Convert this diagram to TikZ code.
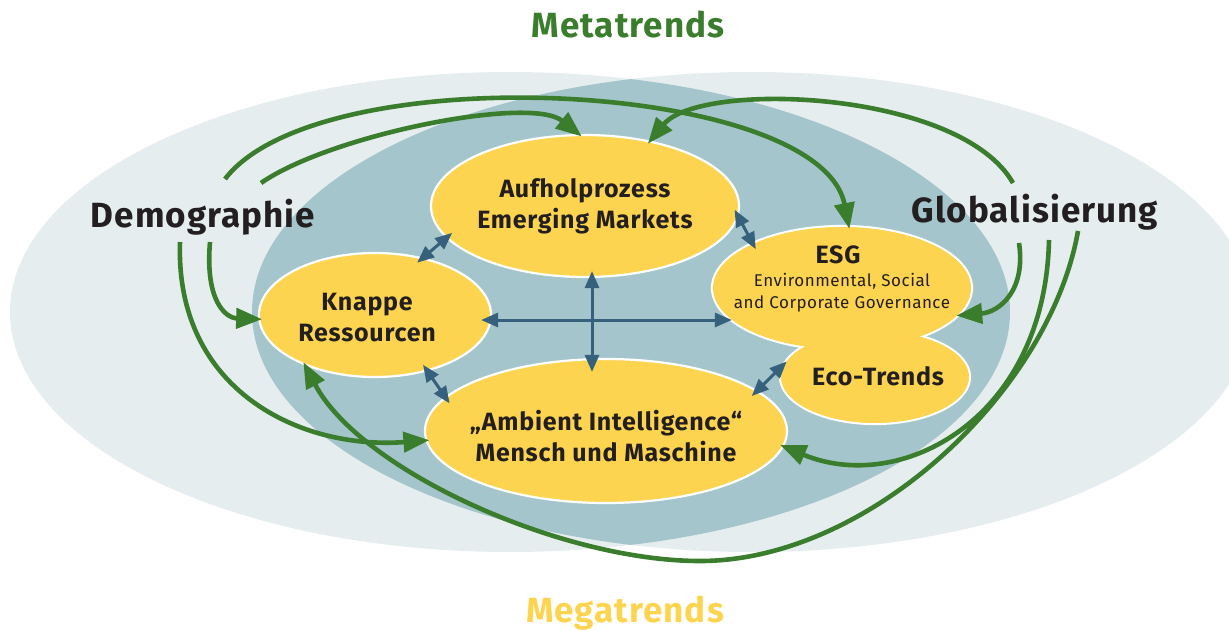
\documentclass[tikz,border=0pt]{standalone}
\usepackage{fontspec}
\setmainfont{Fira Sans}[LetterSpace=3]
\usetikzlibrary{arrows.meta, shapes.geometric}
\definecolor{metagreen}{HTML}{3A7D2C}
\definecolor{megayellow}{HTML}{FDD44F}
\definecolor{fieldlight}{HTML}{E5EDEF}
\definecolor{fielddark}{HTML}{A5C5CC}
\definecolor{linkblue}{HTML}{36617C}
\definecolor{inkdark}{HTML}{231F20}
\tikzset{
  trendblob/.style={ellipse, draw=white, fill=megayellow, line width=2.2pt, inner sep=0pt},
  blobtext/.style={align=center, font=\bfseries\fontsize{25}{31}\selectfont, text=inkdark},
  smalltext/.style={align=center, font=\fontsize{17}{22}\selectfont, text=inkdark},
  forcelabel/.style={font=\bfseries\fontsize{35}{35}\selectfont, text=inkdark, anchor=base, inner sep=0pt},
  headline/.style={font=\bfseries\fontsize{35}{35}\selectfont, anchor=base, inner sep=0pt},
  influence/.style={-{Triangle[length=26pt,width=20pt]}, draw=metagreen, line width=4.6pt, shorten >=-4pt},
  biarrow/.style={{Triangle[length=17pt,width=14pt]}-{Triangle[length=17pt,width=14pt]}, draw=linkblue, line width=3pt},
  link/.style={biarrow, shorten <=-8pt, shorten >=-8pt}
}

\begin{document}
\begin{tikzpicture}[x=1pt, y=-1pt]
\useasboundingbox (0,0) rectangle (1229,630);

% two overlapping fields, darker where they meet
\fill[fieldlight] (510,312) ellipse [x radius=500pt, y radius=240pt];
\fill[fieldlight] (752,312) ellipse [x radius=500pt, y radius=240pt];
\begin{scope}
  \clip (510,312) ellipse [x radius=500pt, y radius=240pt];
  \fill[fielddark] (752,312) ellipse [x radius=500pt, y radius=240pt];
\end{scope}

% headlines and the two metatrends
\node[headline, text=metagreen] (meta) at (628,37) {Metatrends};
\node[headline, text=megayellow] (mega) at (625,622) {Megatrends};
\node[forcelabel] (demo) at (203,227) {Demographie};
\node[forcelabel] (global) at (1035,222) {Globalisierung};

% megatrend blobs
\node[trendblob, minimum width=308pt, minimum height=142pt,
  label={[blobtext]center:{Aufholprozess\\Emerging Markets}}] (aufhol) at (585,206) {};
\node[trendblob, minimum width=232pt, minimum height=124pt,
  label={[blobtext, xshift=-8pt, yshift=-3pt]center:{Knappe\\Ressourcen}}] (knappe) at (375,315) {};
\node[trendblob, minimum width=362pt, minimum height=144pt,
  label={[blobtext, yshift=-5pt]center:{„Ambient Intelligence“\\Mensch und Maschine}}] (ambient) at (606,431) {};
\node[trendblob, minimum width=260pt, minimum height=124pt] (esg) at (842,288) {};
\node[trendblob, minimum width=190pt, minimum height=94pt] (eco) at (875,377) {};
% hide the seam between ESG and Eco-Trends
\fill[megayellow] (esg.center) ellipse [x radius=128.9pt, y radius=60.9pt];
\fill[megayellow] (eco.center) ellipse [x radius=93.9pt, y radius=45.9pt];
\node[blobtext, anchor=base] (esgname) at (838,263) {ESG};
\node[smalltext] (esgtext) at (842,293) {Environmental, Social\\and Corporate Governance};
\node[blobtext, anchor=base] (econame) at (878,385) {Eco-Trends};

% links between the megatrends
\draw[link] (knappe.50) -- (aufhol.193);
\draw[link] (aufhol.-4) -- (esg.153);
\draw[link] (knappe.-47) -- (ambient.168);
\draw[link] (eco.174) -- (ambient.15);
\draw[biarrow] ([xshift=-11pt,yshift=-5pt]knappe.east) -- ([xshift=21pt,yshift=-32pt]esg.west);
\draw[biarrow] ([xshift=7pt,yshift=7pt]aufhol.south) -- ([xshift=-14pt,yshift=-14pt]ambient.north);

% Demographie
\draw[influence] ([shift={(22,-48)}]demo.base) .. controls (320,55) and (820,80) .. (esg.84);
\draw[influence] ([shift={(58,-44)}]demo.base) .. controls (330,135) and (530,95) .. (aufhol.95);
\draw[influence] ([shift={(7,15)}]demo.base) .. controls (205,300) and (225,318) .. (knappe.182);
\draw[influence] ([shift={(-23,15)}]demo.base) .. controls (175,390) and (300,450) .. (ambient.183);

% Globalisierung
\draw[influence] ([shift={(-22,-39)}]global.base) .. controls (960,90) and (700,80) .. (aufhol.45);
\draw[influence] ([shift={(-16,21)}]global.base) .. controls (1026,290) and (1000,312) .. (esg.-13);
\draw[influence] ([shift={(14,18)}]global.base) .. controls (1045,420) and (900,495) .. (ambient.-5);
\draw[influence] ([shift={(43,9)}]global.base) .. controls (1050,390) and (870,561) .. (700,561)
  .. controls (560,561) and (360,470) .. (knappe.216);
\end{tikzpicture}
\end{document}
